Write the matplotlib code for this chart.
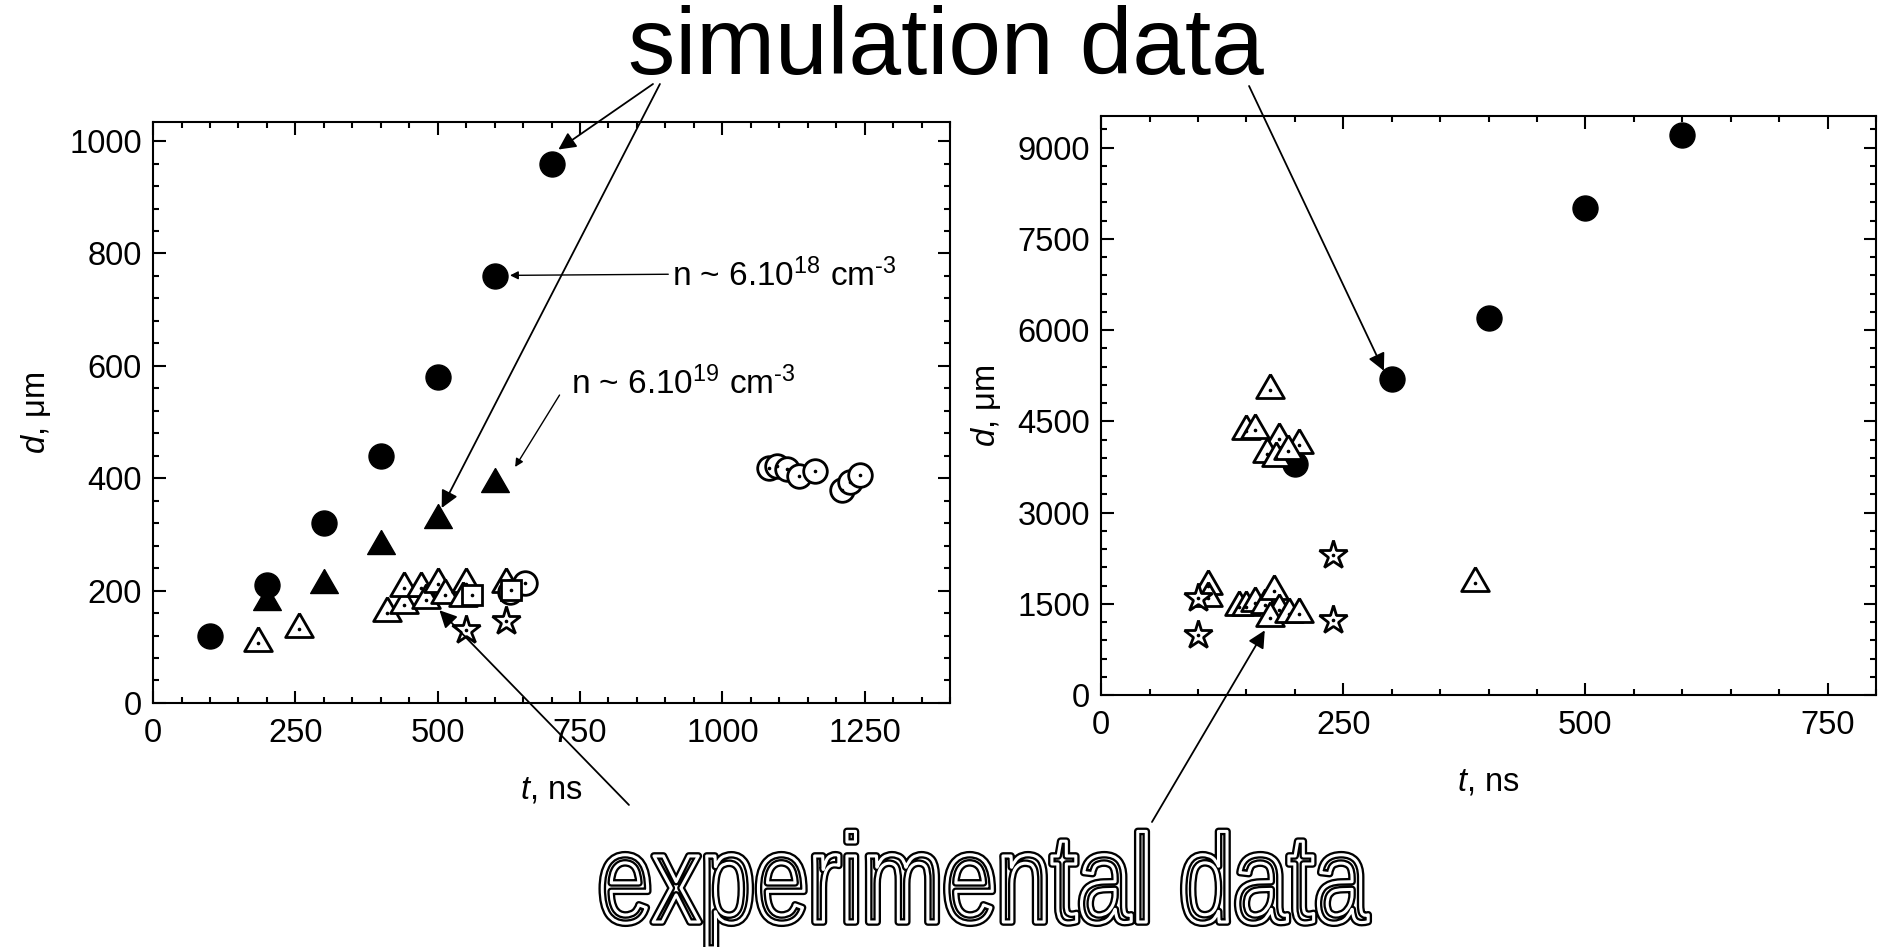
import matplotlib
matplotlib.use("Agg")
import matplotlib.pyplot as plt
import matplotlib.patheffects as pe
from matplotlib.ticker import MultipleLocator
from matplotlib.transforms import Affine2D

plt.rcParams['font.family'] = ['Liberation Sans', 'DejaVu Sans']
plt.rcParams['mathtext.fontset'] = 'custom'
plt.rcParams['mathtext.rm'] = 'Liberation Sans'
plt.rcParams['mathtext.it'] = 'Liberation Sans:italic'

# ---- left panel data ----
sim18_t = [100, 200, 300, 400, 500, 600, 700]
sim18_d = [120, 210, 320, 440, 580, 760, 960]
sim19_t = [200, 300, 400, 500, 600]
sim19_d = [180, 210, 280, 325, 390]
expL_tri_t = [184, 256, 411, 440, 440, 470, 480, 501, 512, 549, 544, 620]
expL_tri_d = [107, 131, 160, 175, 204, 204, 183, 211, 193, 211, 186, 211]
expL_sq_t = [560, 629]
expL_sq_d = [193, 201]
expL_circ_t = [627, 654, 1082, 1096, 1114, 1135, 1163, 1210, 1224, 1241]
expL_circ_d = [197, 214, 418, 421, 416, 404, 412, 379, 393, 406]
expL_star_t = [550, 620]
expL_star_d = [130, 145]

# ---- right panel data ----
simR_t = [200, 300, 400, 500, 600]
simR_d = [3800, 5200, 6200, 8000, 9200]
expR_tri_t = [150, 159, 174, 184, 204, 171, 181, 193,
              110, 110, 142, 150, 159, 169, 179, 184, 174, 194, 204, 386]
expR_tri_d = [4340, 4360, 5010, 4210, 4110, 3965, 3900, 4010,
              1790, 1600, 1454, 1454, 1520, 1487, 1715, 1390, 1259, 1324, 1324, 1846]
expR_star_t = [100, 100, 239, 239]
expR_star_d = [985, 1600, 2302, 1230]

TRI = [(0, 0.577), (-0.5, -0.289), (0.5, -0.289), (0, 0.577)]  # equilateral, centroid at 0


class Squeeze(pe.AbstractPathEffect):
    # squeeze glyphs horizontally (narrow font look), optionally no fill
    def __init__(self, sx, inner, fill=True):
        super().__init__()
        self.sx = sx
        self.inner = inner
        self.fill = fill

    def draw_path(self, renderer, gc, tpath, affine, rgbFace=None):
        self.inner.draw_path(renderer, gc, tpath, Affine2D().scale(self.sx, 1) + affine,
                             rgbFace if self.fill else None)


def open_pts(ax, t, d, marker, ms):
    ax.plot(t, d, ls='none', marker=marker, ms=ms, mfc='white', mec='black', mew=2)
    ax.plot(t, d, ls='none', marker='o', ms=1.6, color='black')


def style(ax):
    ax.tick_params(which='both', direction='in', top=True, right=True, width=1.5, labelsize=23.5)
    ax.tick_params(which='major', length=9)
    ax.tick_params(which='minor', length=4.5)
    ax.tick_params(axis='x', which='major', pad=11)
    ax.tick_params(axis='y', which='major', pad=8)
    for s in ax.spines.values():
        s.set_linewidth(1.5)
    ax.set_xlabel(r"$t$, ns", fontsize=23.5, labelpad=18)


fig = plt.figure(figsize=(18.78, 9.47), dpi=100)
axL = fig.add_axes([0.0815, 0.2577, 0.4244, 0.6135])
axR = fig.add_axes([0.5863, 0.2661, 0.4126, 0.6114])

# left
axL.plot(sim18_t, sim18_d, ls='none', marker='o', ms=18, color='black')
axL.plot(sim19_t, sim19_d, ls='none', marker=TRI, ms=23, color='black')
open_pts(axL, expL_tri_t, expL_tri_d, TRI, 23)
open_pts(axL, expL_circ_t, expL_circ_d, 'o', 17)
open_pts(axL, expL_sq_t, expL_sq_d, 's', 14)
open_pts(axL, expL_star_t, expL_star_d, '*', 21)
axL.set_xlim(0, 1400)
axL.set_ylim(0, 1034)
axL.xaxis.set_major_locator(MultipleLocator(250))
axL.xaxis.set_minor_locator(MultipleLocator(50))
axL.yaxis.set_major_locator(MultipleLocator(200))
axL.yaxis.set_minor_locator(MultipleLocator(40))
style(axL)
axL.set_ylabel(r"$d$, μm", fontsize=23.5, labelpad=12)

thin = dict(arrowstyle='-|>', lw=1, color='black', mutation_scale=12, shrinkA=0, shrinkB=0)
axL.text(912, 761, r"n ~ 6.10$^{18}$ cm$^{\text{-3}}$", va='center', fontsize=24)
axL.annotate('', xy=(627, 761), xytext=(905, 763), arrowprops=thin)
axL.text(735, 568, r"n ~ 6.10$^{19}$ cm$^{\text{-3}}$", va='center', fontsize=24)
axL.annotate('', xy=(636, 420), xytext=(714, 548), arrowprops=thin)

# right
axR.plot(simR_t, simR_d, ls='none', marker='o', ms=18, color='black')
open_pts(axR, expR_tri_t, expR_tri_d, TRI, 23)
open_pts(axR, expR_star_t, expR_star_d, '*', 21)
axR.set_xlim(0, 800)
axR.set_ylim(0, 9520)
axR.xaxis.set_major_locator(MultipleLocator(250))
axR.xaxis.set_minor_locator(MultipleLocator(50))
axR.yaxis.set_major_locator(MultipleLocator(1500))
axR.yaxis.set_minor_locator(MultipleLocator(300))
style(axR)
axR.set_ylabel(r"$d$, μm", fontsize=23.5, labelpad=10)

# big callouts
big = dict(arrowstyle='-|>', lw=1.3, color='black', mutation_scale=26, shrinkA=0, shrinkB=0)
fig.text(0.5037, 0.9219, 'simulation data', ha='center', va='baseline', fontsize=68)
axL.annotate('', xy=(712, 985), xytext=(0.3477, 0.9113), textcoords='figure fraction', arrowprops=big)
axL.annotate('', xy=(507, 347), xytext=(0.3514, 0.9113), textcoords='figure fraction', arrowprops=big)
axR.annotate('', xy=(292, 5330), xytext=(0.6651, 0.9092), textcoords='figure fraction', arrowprops=big)

sq = 0.775
fig.text(0.3185, 0.0264, 'experimental data', ha='left', va='baseline', fontsize=90, color='white',
         path_effects=[Squeeze(sq, pe.Stroke(linewidth=5.5, foreground='black')),
                       Squeeze(sq, pe.Stroke(linewidth=2.2, foreground='white'), fill=False)])
axL.annotate('', xy=(503, 165), xytext=(0.3349, 0.1500), textcoords='figure fraction', arrowprops=big)
axR.annotate('', xy=(169, 1063), xytext=(0.6134, 0.1320), textcoords='figure fraction', arrowprops=big)

fig.savefig('out.png', dpi=100)
